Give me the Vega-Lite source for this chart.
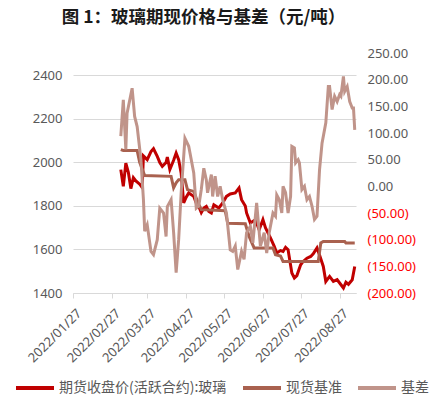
{
  "$schema": "https://vega.github.io/schema/vega-lite/v6.json",
  "autosize": {"type": "none"},
  "padding": {"left": 73, "top": 53, "right": 78, "bottom": 116},
  "width": 283,
  "height": 240,
  "background": "white",
  "title": {
    "text": "图 1：玻璃期现价格与基差（元/吨）",
    "font": "Noto Sans CJK SC",
    "fontSize": 17.5,
    "fontWeight": "bold",
    "color": "#1a1a1a",
    "anchor": "middle",
    "dx": -11,
    "offset": 21
  },
  "config": {
    "view": {"stroke": null},
    "axis": {"labelFont": "Noto Sans", "labelFontSize": 13, "labelColor": "#595959", "title": null}
  },
  "datasets": {
    "fut": [
      {"d": "2022-03-06", "v": 1967}, {"d": "2022-03-08", "v": 1890}, {"d": "2022-03-10", "v": 1997},
      {"d": "2022-03-12", "v": 1955}, {"d": "2022-03-14", "v": 1880}, {"d": "2022-03-16", "v": 1930},
      {"d": "2022-03-18", "v": 1915}, {"d": "2022-03-21", "v": 1900}, {"d": "2022-03-23", "v": 1885},
      {"d": "2022-03-24", "v": 2030}, {"d": "2022-03-27", "v": 2013}, {"d": "2022-03-30", "v": 2050},
      {"d": "2022-04-01", "v": 2063}, {"d": "2022-04-04", "v": 2028}, {"d": "2022-04-06", "v": 2000},
      {"d": "2022-04-08", "v": 1982}, {"d": "2022-04-11", "v": 2000}, {"d": "2022-04-12", "v": 2025},
      {"d": "2022-04-14", "v": 1967}, {"d": "2022-04-17", "v": 2010}, {"d": "2022-04-19", "v": 2043},
      {"d": "2022-04-21", "v": 2013}, {"d": "2022-04-23", "v": 1950}, {"d": "2022-04-25", "v": 1814},
      {"d": "2022-04-27", "v": 1840}, {"d": "2022-04-29", "v": 1860}, {"d": "2022-05-03", "v": 1844},
      {"d": "2022-05-05", "v": 1814}, {"d": "2022-05-07", "v": 1798}, {"d": "2022-05-09", "v": 1770},
      {"d": "2022-05-11", "v": 1790}, {"d": "2022-05-13", "v": 1798}, {"d": "2022-05-15", "v": 1775},
      {"d": "2022-05-17", "v": 1768}, {"d": "2022-05-19", "v": 1805}, {"d": "2022-05-23", "v": 1791},
      {"d": "2022-05-26", "v": 1814}, {"d": "2022-05-29", "v": 1844}, {"d": "2022-06-01", "v": 1855},
      {"d": "2022-06-05", "v": 1860}, {"d": "2022-06-08", "v": 1883}, {"d": "2022-06-10", "v": 1829},
      {"d": "2022-06-13", "v": 1800}, {"d": "2022-06-14", "v": 1768}, {"d": "2022-06-17", "v": 1722},
      {"d": "2022-06-21", "v": 1737}, {"d": "2022-06-24", "v": 1691}, {"d": "2022-06-27", "v": 1737},
      {"d": "2022-06-29", "v": 1700}, {"d": "2022-07-03", "v": 1653}, {"d": "2022-07-06", "v": 1614},
      {"d": "2022-07-08", "v": 1584}, {"d": "2022-07-11", "v": 1595}, {"d": "2022-07-13", "v": 1591},
      {"d": "2022-07-15", "v": 1610}, {"d": "2022-07-17", "v": 1599}, {"d": "2022-07-20", "v": 1492},
      {"d": "2022-07-22", "v": 1469}, {"d": "2022-07-24", "v": 1480}, {"d": "2022-07-27", "v": 1530},
      {"d": "2022-07-29", "v": 1545}, {"d": "2022-08-01", "v": 1560}, {"d": "2022-08-04", "v": 1568},
      {"d": "2022-08-06", "v": 1580}, {"d": "2022-08-09", "v": 1607}, {"d": "2022-08-11", "v": 1575},
      {"d": "2022-08-14", "v": 1522}, {"d": "2022-08-16", "v": 1453}, {"d": "2022-08-19", "v": 1476},
      {"d": "2022-08-22", "v": 1453}, {"d": "2022-08-25", "v": 1461}, {"d": "2022-08-27", "v": 1446},
      {"d": "2022-08-30", "v": 1423}, {"d": "2022-09-01", "v": 1450}, {"d": "2022-09-03", "v": 1440},
      {"d": "2022-09-06", "v": 1461}, {"d": "2022-09-08", "v": 1522}
    ],
    "spot": [
      {"d": "2022-03-06", "v": 2059}, {"d": "2022-03-08", "v": 2055}, {"d": "2022-03-18", "v": 2055},
      {"d": "2022-03-19", "v": 2055}, {"d": "2022-03-21", "v": 2000}, {"d": "2022-03-25", "v": 1940},
      {"d": "2022-04-15", "v": 1936}, {"d": "2022-04-17", "v": 1883}, {"d": "2022-04-19", "v": 1906},
      {"d": "2022-04-21", "v": 1921}, {"d": "2022-04-26", "v": 1921}, {"d": "2022-04-28", "v": 1875},
      {"d": "2022-05-03", "v": 1867}, {"d": "2022-05-06", "v": 1820}, {"d": "2022-05-09", "v": 1783},
      {"d": "2022-05-28", "v": 1778}, {"d": "2022-05-30", "v": 1720}, {"d": "2022-06-13", "v": 1718},
      {"d": "2022-06-16", "v": 1660}, {"d": "2022-06-20", "v": 1607}, {"d": "2022-07-05", "v": 1607},
      {"d": "2022-07-07", "v": 1576}, {"d": "2022-07-11", "v": 1570}, {"d": "2022-07-13", "v": 1545},
      {"d": "2022-08-10", "v": 1545}, {"d": "2022-08-12", "v": 1630}, {"d": "2022-08-14", "v": 1637},
      {"d": "2022-08-31", "v": 1637}, {"d": "2022-09-01", "v": 1630}, {"d": "2022-09-08", "v": 1630}
    ],
    "basis": [
      {"d": "2022-03-06", "v": 94}, {"d": "2022-03-08", "v": 162}, {"d": "2022-03-10", "v": 69},
      {"d": "2022-03-11", "v": 137}, {"d": "2022-03-15", "v": 184}, {"d": "2022-03-17", "v": 131},
      {"d": "2022-03-19", "v": 112}, {"d": "2022-03-22", "v": 50}, {"d": "2022-03-24", "v": -25},
      {"d": "2022-03-25", "v": -84}, {"d": "2022-03-27", "v": -72}, {"d": "2022-03-30", "v": -122},
      {"d": "2022-04-01", "v": -128}, {"d": "2022-04-04", "v": -100}, {"d": "2022-04-06", "v": -41},
      {"d": "2022-04-09", "v": -50}, {"d": "2022-04-11", "v": -94}, {"d": "2022-04-12", "v": -38},
      {"d": "2022-04-15", "v": -25}, {"d": "2022-04-17", "v": -87}, {"d": "2022-04-19", "v": -162},
      {"d": "2022-04-21", "v": -100}, {"d": "2022-04-23", "v": -12}, {"d": "2022-04-26", "v": 90},
      {"d": "2022-04-29", "v": 75}, {"d": "2022-05-03", "v": 25}, {"d": "2022-05-05", "v": -41},
      {"d": "2022-05-07", "v": -37}, {"d": "2022-05-09", "v": -6}, {"d": "2022-05-11", "v": 34},
      {"d": "2022-05-13", "v": 12}, {"d": "2022-05-14", "v": -12}, {"d": "2022-05-17", "v": 22},
      {"d": "2022-05-18", "v": -19}, {"d": "2022-05-20", "v": 19}, {"d": "2022-05-22", "v": -19},
      {"d": "2022-05-24", "v": 0}, {"d": "2022-05-26", "v": -25}, {"d": "2022-05-29", "v": -50},
      {"d": "2022-06-01", "v": -119}, {"d": "2022-06-03", "v": -122}, {"d": "2022-06-05", "v": -112},
      {"d": "2022-06-07", "v": -156}, {"d": "2022-06-10", "v": -122}, {"d": "2022-06-12", "v": -137},
      {"d": "2022-06-14", "v": -87}, {"d": "2022-06-17", "v": -75}, {"d": "2022-06-19", "v": -106},
      {"d": "2022-06-22", "v": -31}, {"d": "2022-06-25", "v": -112}, {"d": "2022-06-28", "v": -87},
      {"d": "2022-06-30", "v": -125}, {"d": "2022-07-02", "v": -87}, {"d": "2022-07-05", "v": -50},
      {"d": "2022-07-07", "v": -56}, {"d": "2022-07-08", "v": -16}, {"d": "2022-07-10", "v": -25},
      {"d": "2022-07-12", "v": -50}, {"d": "2022-07-13", "v": 0}, {"d": "2022-07-15", "v": -12},
      {"d": "2022-07-17", "v": -50}, {"d": "2022-07-19", "v": -19}, {"d": "2022-07-20", "v": 75},
      {"d": "2022-07-22", "v": 72}, {"d": "2022-07-23", "v": 44}, {"d": "2022-07-25", "v": 50},
      {"d": "2022-07-26", "v": 44}, {"d": "2022-07-28", "v": -6}, {"d": "2022-07-30", "v": 0},
      {"d": "2022-08-01", "v": -25}, {"d": "2022-08-03", "v": -19}, {"d": "2022-08-05", "v": -37},
      {"d": "2022-08-07", "v": -62}, {"d": "2022-08-09", "v": -56}, {"d": "2022-08-11", "v": 31},
      {"d": "2022-08-13", "v": 81}, {"d": "2022-08-16", "v": 119}, {"d": "2022-08-18", "v": 187},
      {"d": "2022-08-19", "v": 187}, {"d": "2022-08-21", "v": 144}, {"d": "2022-08-23", "v": 169},
      {"d": "2022-08-25", "v": 159}, {"d": "2022-08-27", "v": 172}, {"d": "2022-08-28", "v": 169},
      {"d": "2022-08-30", "v": 206}, {"d": "2022-08-31", "v": 178}, {"d": "2022-09-02", "v": 187},
      {"d": "2022-09-04", "v": 159}, {"d": "2022-09-06", "v": 147}, {"d": "2022-09-07", "v": 147},
      {"d": "2022-09-08", "v": 106}
    ]
  },
  "encoding": {
    "x": {
      "field": "d",
      "type": "temporal",
      "scale": {
        "type": "utc",
        "domain": [
          {"year": 2022, "month": 1, "date": 27, "utc": true},
          {"year": 2022, "month": 9, "date": 9, "utc": true}
        ]
      },
      "axis": {
        "values": [
          {"year": 2022, "month": 1, "date": 27, "utc": true},
          {"year": 2022, "month": 2, "date": 27, "utc": true},
          {"year": 2022, "month": 3, "date": 27, "utc": true},
          {"year": 2022, "month": 4, "date": 27, "utc": true},
          {"year": 2022, "month": 5, "date": 27, "utc": true},
          {"year": 2022, "month": 6, "date": 27, "utc": true},
          {"year": 2022, "month": 7, "date": 27, "utc": true},
          {"year": 2022, "month": 8, "date": 27, "utc": true}
        ],
        "format": "%Y/%m/%d",
        "labelAngle": -45,
        "labelAlign": "right",
        "labelBaseline": "middle",
        "labelPadding": 13,
        "labelOffset": 6,
        "labelFlush": false,
        "labelOverlap": false,
        "grid": false,
        "domainColor": "#D9D9D9",
        "tickColor": "#D9D9D9",
        "tickSize": 5
      }
    }
  },
  "layer": [
    {
      "encoding": {
        "y": {
          "field": "v",
          "type": "quantitative",
          "scale": {"domain": [1400, 2503], "nice": false, "zero": false},
          "axis": {
            "values": [1400, 1600, 1800, 2000, 2200, 2400],
            "format": "d",
            "grid": true,
            "gridColor": "#D9D9D9",
            "domain": false,
            "ticks": false,
            "labelPadding": 11
          }
        }
      },
      "layer": [
        {
          "data": {"name": "fut"},
          "mark": {"type": "line", "strokeWidth": 3},
          "encoding": {
            "color": {
              "datum": "期货收盘价(活跃合约):玻璃",
              "scale": {
                "domain": ["期货收盘价(活跃合约):玻璃", "现货基准", "基差"],
                "range": ["#C00000", "#A9614F", "#C0948A"]
              },
              "legend": {
                "orient": "none",
                "direction": "horizontal",
                "legendX": -59,
                "legendY": 314,
                "symbolType": "stroke",
                "symbolSize": 1444,
                "symbolStrokeWidth": 4,
                "labelFont": "Noto Sans CJK SC",
                "labelFontSize": 14,
                "labelLimit": 0,
                "labelColor": "#595959",
                "labelOffset": 3,
                "columnPadding": 8,
                "title": null
              }
            }
          }
        },
        {
          "data": {"name": "spot"},
          "mark": {"type": "line", "strokeWidth": 3},
          "encoding": {"color": {"datum": "现货基准"}}
        }
      ]
    },
    {
      "data": {"name": "basis"},
      "mark": {"type": "line", "strokeWidth": 3},
      "encoding": {
        "y": {
          "field": "v",
          "type": "quantitative",
          "scale": {"domain": [-200, 250], "nice": false, "zero": false},
          "axis": {
            "orient": "right",
            "values": [-200, -150, -100, -50, 0, 50, 100, 150, 200, 250],
            "labelExpr": "datum.value < 0 ? '(' + format(-datum.value, '.2f') + ')' : format(datum.value, '.2f')",
            "labelColor": {"condition": {"test": "datum.value < 0", "value": "#FF0000"}, "value": "#595959"},
            "grid": false,
            "domain": false,
            "ticks": false,
            "labelPadding": 11
          }
        },
        "color": {"datum": "基差"}
      }
    }
  ],
  "resolve": {"scale": {"y": "independent"}}
}
